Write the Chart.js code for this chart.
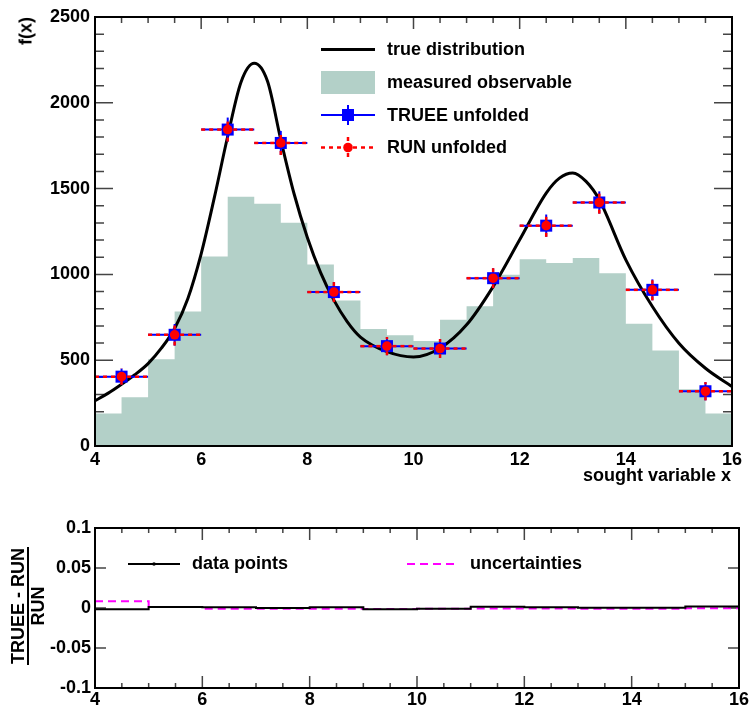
<!DOCTYPE html>
<html>
<head>
<meta charset="utf-8">
<script src="https://cdn.jsdelivr.net/npm/chart.js@4/dist/chart.umd.min.js"></script>
<style>
  body { margin: 0; background: #fff; font-family: "Liberation Sans", Arial, sans-serif; }
  #wrap { position: relative; width: 751px; height: 708px; overflow: hidden; }
  canvas { position: absolute; left: 0; }
  .lbl { position: absolute; font-weight: bold; font-size: 18px; color: #000; white-space: nowrap; }
  .rot { transform: translate(-50%, -50%) rotate(-90deg); }
  .frac { text-align: center; line-height: 16px; }
  .frac .num { border-bottom: 2px solid #000; padding: 0 1px 1px 1px; }
  .frac .den { padding-top: 1px; }
</style>
</head>
<body>
<div id="wrap">
  <canvas id="main_chart" width="751" height="490" style="top:0"></canvas>
  <canvas id="ratio_chart" width="751" height="218" style="top:490px"></canvas>
  <div class="lbl rot" style="left:26px; top:31px;">f(x)</div>
  <div class="lbl" style="right:20px; top:465px;">sought variable x</div>
  <div class="lbl rot frac" style="left:28px; top:606px;">
    <div class="num">TRUEE - RUN</div>
    <div class="den">RUN</div>
  </div>
</div>
<script>
// ---- data ----
// measured observable, 24 bins of width 0.5 from 4 to 16
const measEdges = [4, 4.5, 5, 5.5, 6, 6.5, 7, 7.5, 8, 8.5, 9, 9.5, 10, 10.5, 11, 11.5, 12, 12.5, 13, 13.5, 14, 14.5, 15, 15.5, 16];
const measured = [190, 284, 506, 784, 1104, 1453, 1412, 1301, 1058, 848, 682, 646, 612, 735, 815, 998, 1089, 1066, 1095, 1007, 712, 556, 331, 190];

// true distribution (sampled along the black curve)
const trueX = [4, 4.25, 4.5, 4.75, 5, 5.25, 5.5, 5.75, 6, 6.25, 6.5, 6.75, 7, 7.25, 7.5, 7.75, 8, 8.25, 8.5, 8.75, 9, 9.5, 10, 10.5, 11, 11.5, 12, 12.5, 12.75, 13, 13.25, 13.5, 14, 14.5, 15, 15.5, 16];
const trueY = [264, 308, 360, 415, 480, 570, 685, 860, 1120, 1450, 1805, 2120, 2230, 2125, 1785, 1470, 1215, 1010, 850, 725, 635, 550, 519, 570, 706, 929, 1202, 1474, 1561, 1591, 1542, 1435, 1085, 813, 599, 453, 346];

// unfolded results, 12 bins of width 1
const binCenters = [4.5, 5.5, 6.5, 7.5, 8.5, 9.5, 10.5, 11.5, 12.5, 13.5, 14.5, 15.5];
const trueeY = [404, 648, 1844, 1766, 897, 582, 568, 978, 1284, 1419, 910, 319];
const trueeErr = [47, 63, 70, 70, 58, 53, 55, 58, 65, 65, 61, 53];
const runY = [404, 648, 1844, 1766, 897, 582, 568, 978, 1284, 1419, 910, 319];
const runErr = [47, 63, 70, 70, 58, 53, 55, 58, 65, 65, 61, 53];

// ratio panel
const ratioEdges = [4, 5, 6, 7, 8, 9, 10, 11, 12, 13, 14, 15, 16];
const ratioData = [-0.0017, 0.0012, 0.0008, 0, 0.001, -0.0017, -0.001, 0.0015, 0.0008, 0.0004, 0.0004, 0.0019];
const ratioUnc = [0.0083, 0.0013, -0.0008, -0.0008, -0.0008, -0.0013, -0.001, -0.0005, -0.0005, -0.0008, -0.0008, -0.0003];

const FONT = "'Liberation Sans', Arial, sans-serif";

function stepPoints(edges, vals) {
  const pts = vals.map((v, i) => ({ x: edges[i], y: v }));
  pts.push({ x: edges[edges.length - 1], y: vals[vals.length - 1] });
  return pts;
}

// ROOT style frame with inward ticks
const rootFrame = {
  id: "rootFrame",
  beforeDatasetsDraw(chart, args, opt) {
    const { ctx, chartArea: a, scales: { x, y } } = chart;
    ctx.save();
    ctx.strokeStyle = "#444";
    ctx.lineWidth = 1.5;
    ctx.beginPath();
    for (let v = x.min; v <= x.max + 1e-9; v += opt.xStep) {
      const px = x.getPixelForValue(v);
      const major = Math.abs(v / opt.xMajor - Math.round(v / opt.xMajor)) < 1e-6;
      const len = major ? opt.xMajLen : opt.xMinLen;
      ctx.moveTo(px, a.top);
      ctx.lineTo(px, a.top + len);
      ctx.moveTo(px, a.bottom);
      ctx.lineTo(px, a.bottom - len);
    }
    for (let v = y.min; v <= y.max + 1e-9; v += opt.yStep) {
      const py = y.getPixelForValue(v);
      const major = Math.abs(v / opt.yMajor - Math.round(v / opt.yMajor)) < 1e-6;
      const len = major ? opt.yMajLen : opt.yMinLen;
      ctx.moveTo(a.left, py);
      ctx.lineTo(a.left + len, py);
      ctx.moveTo(a.right, py);
      ctx.lineTo(a.right - len, py);
    }
    ctx.stroke();
    ctx.restore();
  },
  afterDatasetsDraw(chart) {
    const { ctx, chartArea: a } = chart;
    ctx.save();
    ctx.strokeStyle = "#000";
    ctx.lineWidth = 2;
    ctx.strokeRect(a.left, a.top, a.right - a.left, a.bottom - a.top);
    ctx.restore();
  },
};

// error bars, drawn just before the markers of their dataset
const errorBars = {
  id: "errorBars",
  beforeDatasetDraw(chart, args) {
    const ds = chart.data.datasets[args.index];
    if (!ds.errors) return;
    const { ctx, scales: { x, y } } = chart;
    ctx.save();
    ctx.strokeStyle = ds.barColor;
    ctx.lineWidth = ds.barWidth;
    ctx.setLineDash(ds.barDash);
    ds.data.forEach((p, i) => {
      const err = ds.errors[i];
      ctx.beginPath();
      ctx.moveTo(x.getPixelForValue(p.x - 0.5), y.getPixelForValue(p.y));
      ctx.lineTo(x.getPixelForValue(p.x + 0.5), y.getPixelForValue(p.y));
      ctx.stroke();
      ctx.beginPath();
      ctx.moveTo(x.getPixelForValue(p.x), y.getPixelForValue(p.y - err));
      ctx.lineTo(x.getPixelForValue(p.x), y.getPixelForValue(p.y + err));
      ctx.stroke();
    });
    ctx.restore();
  },
};

// legend inside the main plot
const mainLegend = {
  id: "mainLegend",
  afterDraw(chart) {
    const ctx = chart.ctx;
    const x0 = 321, x1 = 375, xm = 348, tx = 387;
    ctx.save();
    ctx.font = "bold 18px " + FONT;
    ctx.textBaseline = "middle";
    ctx.fillStyle = "#000";
    // true distribution
    ctx.strokeStyle = "#000";
    ctx.lineWidth = 3;
    ctx.beginPath(); ctx.moveTo(x0, 49.5); ctx.lineTo(x1, 49.5); ctx.stroke();
    ctx.fillText("true distribution", tx, 50);
    // measured observable
    ctx.fillStyle = "rgb(179, 208, 200)";
    ctx.fillRect(x0, 71, x1 - x0, 23);
    ctx.fillStyle = "#000";
    ctx.fillText("measured observable", tx, 83);
    // TRUEE
    ctx.strokeStyle = "#0000ff";
    ctx.lineWidth = 2;
    ctx.beginPath();
    ctx.moveTo(x0, 115); ctx.lineTo(x1, 115);
    ctx.moveTo(xm, 105); ctx.lineTo(xm, 125);
    ctx.stroke();
    ctx.fillStyle = "#0000ff";
    ctx.fillRect(xm - 6, 109, 12, 12);
    ctx.fillStyle = "#000";
    ctx.fillText("TRUEE unfolded", tx, 116);
    // RUN
    ctx.strokeStyle = "#ff0000";
    ctx.lineWidth = 2.5;
    ctx.setLineDash([4, 4]);
    ctx.beginPath();
    ctx.moveTo(x0, 147.5); ctx.lineTo(x1, 147.5);
    ctx.moveTo(xm, 137); ctx.lineTo(xm, 158);
    ctx.stroke();
    ctx.setLineDash([]);
    ctx.fillStyle = "#ff0000";
    ctx.beginPath(); ctx.arc(xm, 147.5, 4.8, 0, Math.PI * 2); ctx.fill();
    ctx.fillStyle = "#000";
    ctx.fillText("RUN unfolded", tx, 148);
    ctx.restore();
  },
};

// legend of the ratio panel
const ratioLegend = {
  id: "ratioLegend",
  afterDraw(chart) {
    const ctx = chart.ctx;
    const ly = 74;
    ctx.save();
    ctx.font = "bold 18px " + FONT;
    ctx.textBaseline = "middle";
    ctx.strokeStyle = "#000";
    ctx.lineWidth = 2;
    ctx.beginPath(); ctx.moveTo(128, ly); ctx.lineTo(180, ly); ctx.stroke();
    ctx.fillStyle = "#000";
    ctx.beginPath(); ctx.arc(154, ly, 1.8, 0, Math.PI * 2); ctx.fill();
    ctx.fillText("data points", 192, ly);
    ctx.strokeStyle = "#ff00ff";
    ctx.setLineDash([8, 5]);
    ctx.beginPath(); ctx.moveTo(407, ly); ctx.lineTo(455, ly); ctx.stroke();
    ctx.setLineDash([]);
    ctx.fillText("uncertainties", 470, ly);
    ctx.restore();
  },
};

function tickFont() {
  return { family: FONT, size: 18, weight: "bold" };
}

// main plot
new Chart(document.getElementById("main_chart"), {
  type: "line",
  data: {
    datasets: [
      {
        label: "measured observable",
        data: stepPoints(measEdges, measured),
        stepped: "before",
        fill: "origin",
        backgroundColor: "rgb(179, 208, 200)",
        borderWidth: 0,
        pointRadius: 0,
        order: 4,
      },
      {
        label: "true distribution",
        data: trueX.map((v, i) => ({ x: v, y: trueY[i] })),
        borderColor: "#000",
        borderWidth: 3,
        pointRadius: 0,
        cubicInterpolationMode: "monotone",
        fill: false,
        order: 3,
      },
      {
        label: "TRUEE unfolded",
        data: binCenters.map((v, i) => ({ x: v, y: trueeY[i] })),
        showLine: false,
        pointStyle: "rect",
        pointRadius: 8.5,
        pointBorderWidth: 0,
        pointBackgroundColor: "#0000ff",
        errors: trueeErr,
        barColor: "#0000ff",
        barWidth: 2,
        barDash: [],
        order: 2,
      },
      {
        label: "RUN unfolded",
        data: binCenters.map((v, i) => ({ x: v, y: runY[i] })),
        showLine: false,
        pointStyle: "circle",
        pointRadius: 4.8,
        pointBorderWidth: 0,
        pointBackgroundColor: "#ff0000",
        errors: runErr,
        barColor: "#ff0000",
        barWidth: 2.5,
        barDash: [4, 4],
        order: 1,
      },
    ],
  },
  options: {
    responsive: false,
    animation: false,
    events: [],
    layout: { padding: { left: 0, top: 17, right: 19, bottom: 0 } },
    plugins: {
      legend: { display: false },
      tooltip: { enabled: false },
      rootFrame: { xStep: 0.5, xMajor: 2, xMajLen: 12, xMinLen: 6, yStep: 100, yMajor: 500, yMajLen: 18, yMinLen: 9 },
    },
    scales: {
      x: {
        type: "linear",
        min: 4,
        max: 16,
        grid: { display: false, drawTicks: false },
        border: { display: false },
        ticks: { stepSize: 2, font: tickFont(), color: "#000", padding: 3 },
        afterFit: (s) => { s.height = 44; },
      },
      y: {
        min: 0,
        max: 2500,
        grid: { display: false, drawTicks: false },
        border: { display: false },
        ticks: { stepSize: 500, font: tickFont(), color: "#000", padding: 5, callback: (v) => String(v) },
        afterFit: (s) => { s.width = 95; },
      },
    },
  },
  plugins: [rootFrame, errorBars, mainLegend],
});

// ratio panel
new Chart(document.getElementById("ratio_chart"), {
  type: "line",
  data: {
    datasets: [
      {
        label: "data points",
        data: stepPoints(ratioEdges, ratioData),
        stepped: "before",
        borderColor: "#000",
        borderWidth: 2,
        pointRadius: 0,
        fill: false,
        order: 1,
      },
      {
        label: "uncertainties",
        data: stepPoints(ratioEdges, ratioUnc),
        stepped: "before",
        borderColor: "#ff00ff",
        borderWidth: 2,
        borderDash: [8, 5],
        pointRadius: 0,
        fill: false,
        order: 2,
      },
    ],
  },
  options: {
    responsive: false,
    animation: false,
    events: [],
    layout: { padding: { left: 0, top: 38, right: 12, bottom: 0 } },
    plugins: {
      legend: { display: false },
      tooltip: { enabled: false },
      rootFrame: { xStep: 0.5, xMajor: 2, xMajLen: 12, xMinLen: 5, yStep: 0.05, yMajor: 0.05, yMajLen: 11, yMinLen: 11 },
    },
    scales: {
      x: {
        type: "linear",
        min: 4,
        max: 16,
        grid: { display: false, drawTicks: false },
        border: { display: false },
        ticks: { stepSize: 2, font: tickFont(), color: "#000", padding: 1 },
        afterFit: (s) => { s.height = 20; },
      },
      y: {
        min: -0.1,
        max: 0.1,
        grid: { display: false, drawTicks: false },
        border: { display: false },
        ticks: { stepSize: 0.05, font: tickFont(), color: "#000", padding: 4, callback: (v) => String(+v.toFixed(2)) },
        afterFit: (s) => { s.width = 95; },
      },
    },
  },
  plugins: [rootFrame, ratioLegend],
});
</script>
</body>
</html>
